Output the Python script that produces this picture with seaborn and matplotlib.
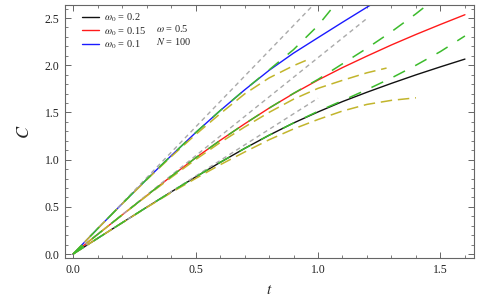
import numpy as np
import pandas as pd
import matplotlib
matplotlib.use("Agg")
import matplotlib.pyplot as plt
import seaborn as sns
from matplotlib.lines import Line2D
from matplotlib.ticker import MultipleLocator

# ---------------- data ----------------
t_full = [0.0, 0.1, 0.2, 0.3, 0.4, 0.5, 0.6, 0.7, 0.8, 0.9, 1.0, 1.1, 1.2, 1.3, 1.4, 1.5, 1.6]
c_black = [0, 0.166, 0.331, 0.495, 0.657, 0.816, 0.970, 1.118, 1.258, 1.388, 1.505, 1.615, 1.714, 1.808, 1.898, 1.983, 2.065]
c_red = [0, 0.208, 0.414, 0.618, 0.822, 1.018, 1.203, 1.378, 1.545, 1.700, 1.843, 1.975, 2.097, 2.215, 2.326, 2.432, 2.535]
t_blue = [0.0, 0.1, 0.2, 0.3, 0.4, 0.5, 0.6, 0.7, 0.8, 0.9, 1.0, 1.1, 1.2, 1.3]
c_blue = [0, 0.268, 0.532, 0.790, 1.040, 1.285, 1.518, 1.738, 1.945, 2.128, 2.292, 2.455, 2.615, 2.770]

# green long-dashed approximations
t_g_blue = [0.0, 0.1, 0.2, 0.3, 0.4, 0.5, 0.6, 0.7, 0.8, 0.9, 1.0, 1.1]
c_g_blue = [0, 0.268, 0.532, 0.790, 1.040, 1.285, 1.518, 1.738, 1.950, 2.165, 2.420, 2.740]
t_g_red = [0.0, 0.1, 0.2, 0.3, 0.4, 0.5, 0.6, 0.7, 0.8, 0.9, 1.0, 1.1, 1.2, 1.3, 1.4, 1.5]
c_g_red = [0, 0.208, 0.414, 0.618, 0.822, 1.018, 1.203, 1.378, 1.545, 1.702, 1.850, 2.015, 2.180, 2.355, 2.545, 2.750]
t_g_black = t_full
c_g_black = [0, 0.166, 0.331, 0.495, 0.657, 0.816, 0.970, 1.118, 1.258, 1.388, 1.512, 1.625, 1.742, 1.865, 2.000, 2.145, 2.310]

# yellow dashed saturating curves
t_y_blue = [0.0, 0.1, 0.2, 0.3, 0.4, 0.5, 0.6, 0.7, 0.8, 0.9, 0.95]
c_y_blue = [0, 0.268, 0.530, 0.785, 1.030, 1.265, 1.485, 1.695, 1.865, 1.995, 2.050]
t_y_red = [0.0, 0.1, 0.2, 0.3, 0.4, 0.5, 0.6, 0.7, 0.8, 0.9, 1.0, 1.1, 1.2, 1.28]
c_y_red = [0, 0.208, 0.413, 0.614, 0.810, 1.000, 1.180, 1.345, 1.500, 1.640, 1.755, 1.840, 1.920, 1.970]
t_y_black = [0.0, 0.1, 0.2, 0.3, 0.4, 0.5, 0.6, 0.7, 0.8, 0.9, 1.0, 1.1, 1.2, 1.3, 1.4]
c_y_black = [0, 0.166, 0.330, 0.492, 0.650, 0.800, 0.945, 1.080, 1.210, 1.325, 1.425, 1.515, 1.585, 1.628, 1.655]

# gray straight lines (start at origin)
gray_t_end = [1.0, 1.2, 1.0]
gray_c_end = [2.69, 2.496, 1.65]

legend_labels = [r"$\omega_0$ = 0.2", r"$\omega_0$ = 0.15", r"$\omega_0$ = 0.1"]
extra_labels = [r"$\omega$ = 0.5", r"$N$ = 100"]
x_ticks = [0.0, 0.5, 1.0, 1.5]
y_ticks = [0.0, 0.5, 1.0, 1.5, 2.0, 2.5]

# ---------------- style ----------------
sns.set_theme(style="white")
plt.rcParams["font.family"] = ["Liberation Serif", "DejaVu Serif"]
plt.rcParams["mathtext.fontset"] = "stix"

fig = plt.figure(figsize=(4.85, 3.02), dpi=100)
ax = fig.add_axes([65 / 485, 1 - 258 / 302, (474 - 65) / 485, (258 - 5) / 302])

def line(tt, cc, color, lw, ls, z):
    df = pd.DataFrame({"t": tt, "C": cc})
    sns.lineplot(data=df, x="t", y="C", ax=ax, color=color, lw=lw,
                 linestyle=ls, sort=False, estimator=None, zorder=z)

solid_colors = ["#111111", "#ff1a1a", "#1a1aff"]
line(t_full, c_black, solid_colors[0], 1.0, "-", 2)
line(t_full, c_red, solid_colors[1], 1.0, "-", 2)
line(t_blue, c_blue, solid_colors[2], 1.0, "-", 2)

gray = "#aaaaaa"
for te, ce in zip(gray_t_end, gray_c_end):
    line([0.0, te], [0.0, ce], gray, 1.0, (0, (3.2, 2.6)), 3)

yellow = "#c2b52c"
for tt, cc in [(t_y_blue, c_y_blue), (t_y_red, c_y_red), (t_y_black, c_y_black)]:
    line(tt, cc, yellow, 1.1, (0, (7.5, 3.8)), 4)

green = "#3cbb2c"
for tt, cc in [(t_g_blue, c_g_blue), (t_g_red, c_g_red), (t_g_black, c_g_black)]:
    line(tt, cc, green, 1.1, (0, (8.5, 7.5)), 5)

ax.set_xlim(-0.033, 1.637)
ax.set_ylim(-0.042, 2.638)
ax.set_xticks(x_ticks)
ax.set_yticks(y_ticks)
ax.set_xticklabels([f"{v:.1f}" for v in x_ticks])
ax.set_yticklabels([f"{v:.1f}" for v in y_ticks])
ax.xaxis.set_minor_locator(MultipleLocator(0.1))
ax.yaxis.set_minor_locator(MultipleLocator(0.1))
ax.tick_params(which="both", direction="in", top=True, right=True,
               bottom=True, left=True, color="#666666", labelsize=8.5,
               labelcolor="#222222")
ax.tick_params(which="major", length=4, width=0.7, pad=4)
ax.tick_params(which="minor", length=2.2, width=0.6)
for s in ax.spines.values():
    s.set_color("#666666")
    s.set_linewidth(0.8)
    s.set_visible(True)

ax.set_xlabel("$t$", fontsize=11, labelpad=6)
ax.set_ylabel("$C$", fontsize=13, labelpad=8)

handles = [Line2D([0], [0], color=c, lw=1.0) for c in solid_colors]
ax.legend(handles, legend_labels, loc="upper left", bbox_to_anchor=(0.025, 1.0),
          frameon=False, fontsize=7.5, handlelength=1.6, handletextpad=0.5,
          labelspacing=0.08, borderaxespad=0.25)
ax.text(0.222, 0.906, extra_labels[0], transform=ax.transAxes, fontsize=7.5,
        va="center", ha="left")
ax.text(0.222, 0.855, extra_labels[1], transform=ax.transAxes, fontsize=7.5,
        va="center", ha="left")

fig.savefig("out.png", dpi=100)
